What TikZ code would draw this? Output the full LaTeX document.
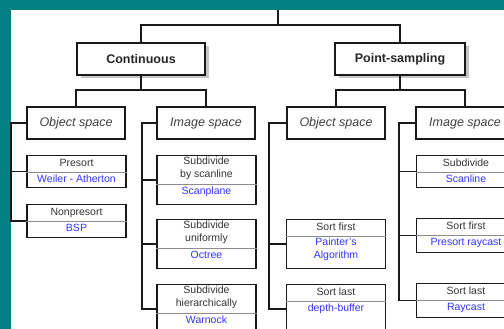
\documentclass[tikz,border=0pt]{standalone}
\usepackage{fontspec}
\setmainfont{Liberation Sans}
\usetikzlibrary{positioning}
\usetikzlibrary{shadows}
\definecolor{slideteal}{RGB}{0,128,128}
\definecolor{algoblue}{RGB}{51,51,255}

\begin{document}
\begin{tikzpicture}[x=1pt, y=-1pt,
    classbox/.style={draw=black!90, line width=1.8pt, fill=white, minimum width=128pt, minimum height=32pt,
        font=\fontsize{12.5}{15}\selectfont\bfseries, text=black!85,
        drop shadow={shadow xshift=4pt, shadow yshift=-3pt, fill=black!45}},
    spacebox/.style={draw=black!90, line width=1.8pt, fill=white, minimum width=98pt, minimum height=32pt,
        inner sep=0pt, font=\fontsize{12.5}{15}\selectfont\itshape, text=black!75},
    leafbox/.style={draw=black!90, line width=1.3pt, minimum width=99pt, anchor=north, inner sep=0pt},
    leaftext/.style={anchor=north, align=center, inner xsep=0pt, inner ysep=2pt,
        font=\fontsize{10.5}{13}\selectfont, text=black!80,
        execute at begin node=\strut, execute at end node=\strut},
    algotext/.style={leaftext, text=algoblue, inner ysep=1pt},
    divider/.style={draw=black!45, line width=0.8pt},
    link/.style={draw=black!90, line width=1.4pt}]

    % slide background
    \useasboundingbox (0,0) rectangle (504,329);
    \fill[slideteal] (0,0) rectangle (504,329);
    \fill[white] (11,10) rectangle (504,329);

    % top level
    \node[classbox] (cont) at (141,59) {Continuous};
    \node[classbox, minimum width=130pt] (point) at (400,59) {Point-sampling};
    \coordinate (top) at (278,10);
    \coordinate (topfork) at (278,25);
    \draw[link] (top) -- (topfork);
    \draw[link] (cont.north) |- (topfork) -| (point.north);

    % object / image space
    \node[spacebox] (objC) at (76,123) {Object space};
    \node[spacebox] (imgC) at (206,123) {Image space};
    \node[spacebox] (objP) at (336,123) {Object space};
    \node[spacebox] (imgP) at (465,123) {Image space};
    \coordinate (contfork) at (141,90);
    \coordinate (pointfork) at (400,90);
    \draw[link] (cont.south) -- (contfork);
    \draw[link] (objC.north) |- (contfork) -| (imgC.north);
    \draw[link] (point.south) -- (pointfork);
    \draw[link] (objP.north) |- (pointfork) -| (imgP.north);

    % continuous, object space
    \node[leafbox, minimum height=32pt] (presort) at (76.5,155) {};
    \node[leaftext] (presortT) at (presort.north) {Presort};
    \node[algotext] (presortA) at (presortT.south) {Weiler - Atherton};
    \draw[divider] (presort.west |- presortT.south) -- (presort.east |- presortT.south);

    \node[leafbox, minimum height=33pt] (nonpre) at (76.5,204) {};
    \node[leaftext] (nonpreT) at (nonpre.north) {Nonpresort};
    \node[algotext] (nonpreA) at (nonpreT.south) {BSP};
    \draw[divider] (nonpre.west |- nonpreT.south) -- (nonpre.east |- nonpreT.south);

    \draw[link] (objC.west) -- ++(-15,0) coordinate (spineA) |- (nonpre.west);
    \draw[link] (spineA) |- (presort.west);

    % continuous, image space
    \node[leafbox, minimum height=49pt] (scan) at (206.5,155) {};
    \node[leaftext] (scanT) at (scan.north) {Subdivide\\by scanline};
    \node[algotext] (scanA) at (scanT.south) {Scanplane};
    \draw[divider] (scan.west |- scanT.south) -- (scan.east |- scanT.south);

    \node[leafbox, minimum height=49pt] (unif) at (206.5,219) {};
    \node[leaftext] (unifT) at (unif.north) {Subdivide\\uniformly};
    \node[algotext] (unifA) at (unifT.south) {Octree};
    \draw[divider] (unif.west |- unifT.south) -- (unif.east |- unifT.south);

    \node[leafbox, minimum height=49pt] (hier) at (206.5,284) {};
    \node[leaftext] (hierT) at (hier.north) {Subdivide\\hierarchically};
    \node[algotext] (hierA) at (hierT.south) {Warnock};
    \draw[divider] (hier.west |- hierT.south) -- (hier.east |- hierT.south);

    \draw[link] (imgC.west) -- ++(-14,0) coordinate (spineB) |- (hier.west);
    \draw[link] (spineB) |- (scan.west);
    \draw[link] (spineB) |- (unif.west);

    % point-sampling, object space
    \node[leafbox, minimum height=49pt] (first) at (336,219) {};
    \node[leaftext] (firstT) at (first.north) {Sort first};
    \node[algotext] (firstA) at (firstT.south) {Painter's\\Algorithm};
    \draw[divider] (first.west |- firstT.south) -- (first.east |- firstT.south);

    \node[leafbox, minimum height=49pt] (last) at (336,284) {};
    \node[leaftext] (lastT) at (last.north) {Sort last};
    \node[algotext] (lastA) at (lastT.south) {depth-buffer};
    \draw[divider] (last.west |- lastT.south) -- (last.east |- lastT.south);

    \draw[link] (objP.west) -- ++(-17,0) coordinate (spineC) |- (last.west);
    \draw[link] (spineC) |- (first.west);

    % point-sampling, image space
    \node[leafbox, minimum height=32pt] (line) at (466,155) {};
    \node[leaftext] (lineT) at (line.north) {Subdivide};
    \node[algotext] (lineA) at (lineT.south) {Scanline};
    \draw[divider] (line.west |- lineT.south) -- (line.east |- lineT.south);

    \node[leafbox, minimum height=34pt] (pray) at (466,218) {};
    \node[leaftext] (prayT) at (pray.north) {Sort first};
    \node[algotext] (prayA) at (prayT.south) {Presort raycast};
    \draw[divider] (pray.west |- prayT.south) -- (pray.east |- prayT.south);

    \node[leafbox, minimum height=34pt] (ray) at (466,283) {};
    \node[leaftext] (rayT) at (ray.north) {Sort last};
    \node[algotext] (rayA) at (rayT.south) {Raycast};
    \draw[divider] (ray.west |- rayT.south) -- (ray.east |- rayT.south);

    \draw[link] (imgP.west) -- ++(-16,0) coordinate (spineD) |- (ray.west);
    \draw[link] (spineD) |- (line.west);
    \draw[link] (spineD) |- (pray.west);
\end{tikzpicture}
\end{document}
